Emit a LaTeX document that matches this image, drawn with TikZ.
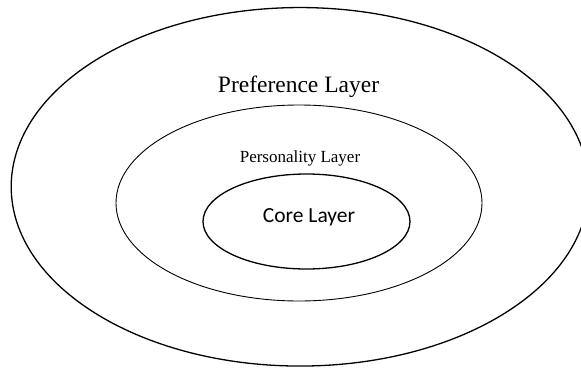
\documentclass[tikz,border=0pt]{standalone}
\usepackage{fontspec}
\setmainfont{Liberation Serif}
\newfontfamily\corefont{Carlito}
\usetikzlibrary{shapes.geometric}
\begin{document}
\begin{tikzpicture}[x=1pt,y=-1pt,
  layer/.style={draw=black, ellipse, inner sep=0pt, fill=none},
  lbl/.style={anchor=base, inner sep=0pt, text=black}]
\useasboundingbox (0,0) rectangle (581,367);
% three nested layers
\node[layer, line width=1.3pt, minimum width=577.6pt, minimum height=358.5pt] (outer) at (300,186.8) {};
\node[layer, line width=0.9pt, minimum width=366pt, minimum height=196pt] (middle) at (299,203) {};
\node[layer, line width=1.3pt, minimum width=207pt, minimum height=95pt] (inner) at (306.5,221.5) {};
% layer names
\node[lbl, font=\fontsize{23.5}{25}\selectfont] (pref) at (298.5,92) {Preference Layer};
\node[lbl, font=\fontsize{17}{19}\selectfont] (pers) at (300,162.5) {Personality Layer};
\node[lbl, font=\corefont\fontsize{21.5}{23}\selectfont] (core) at (309,222.5) {Core Layer};
\end{tikzpicture}
\end{document}
